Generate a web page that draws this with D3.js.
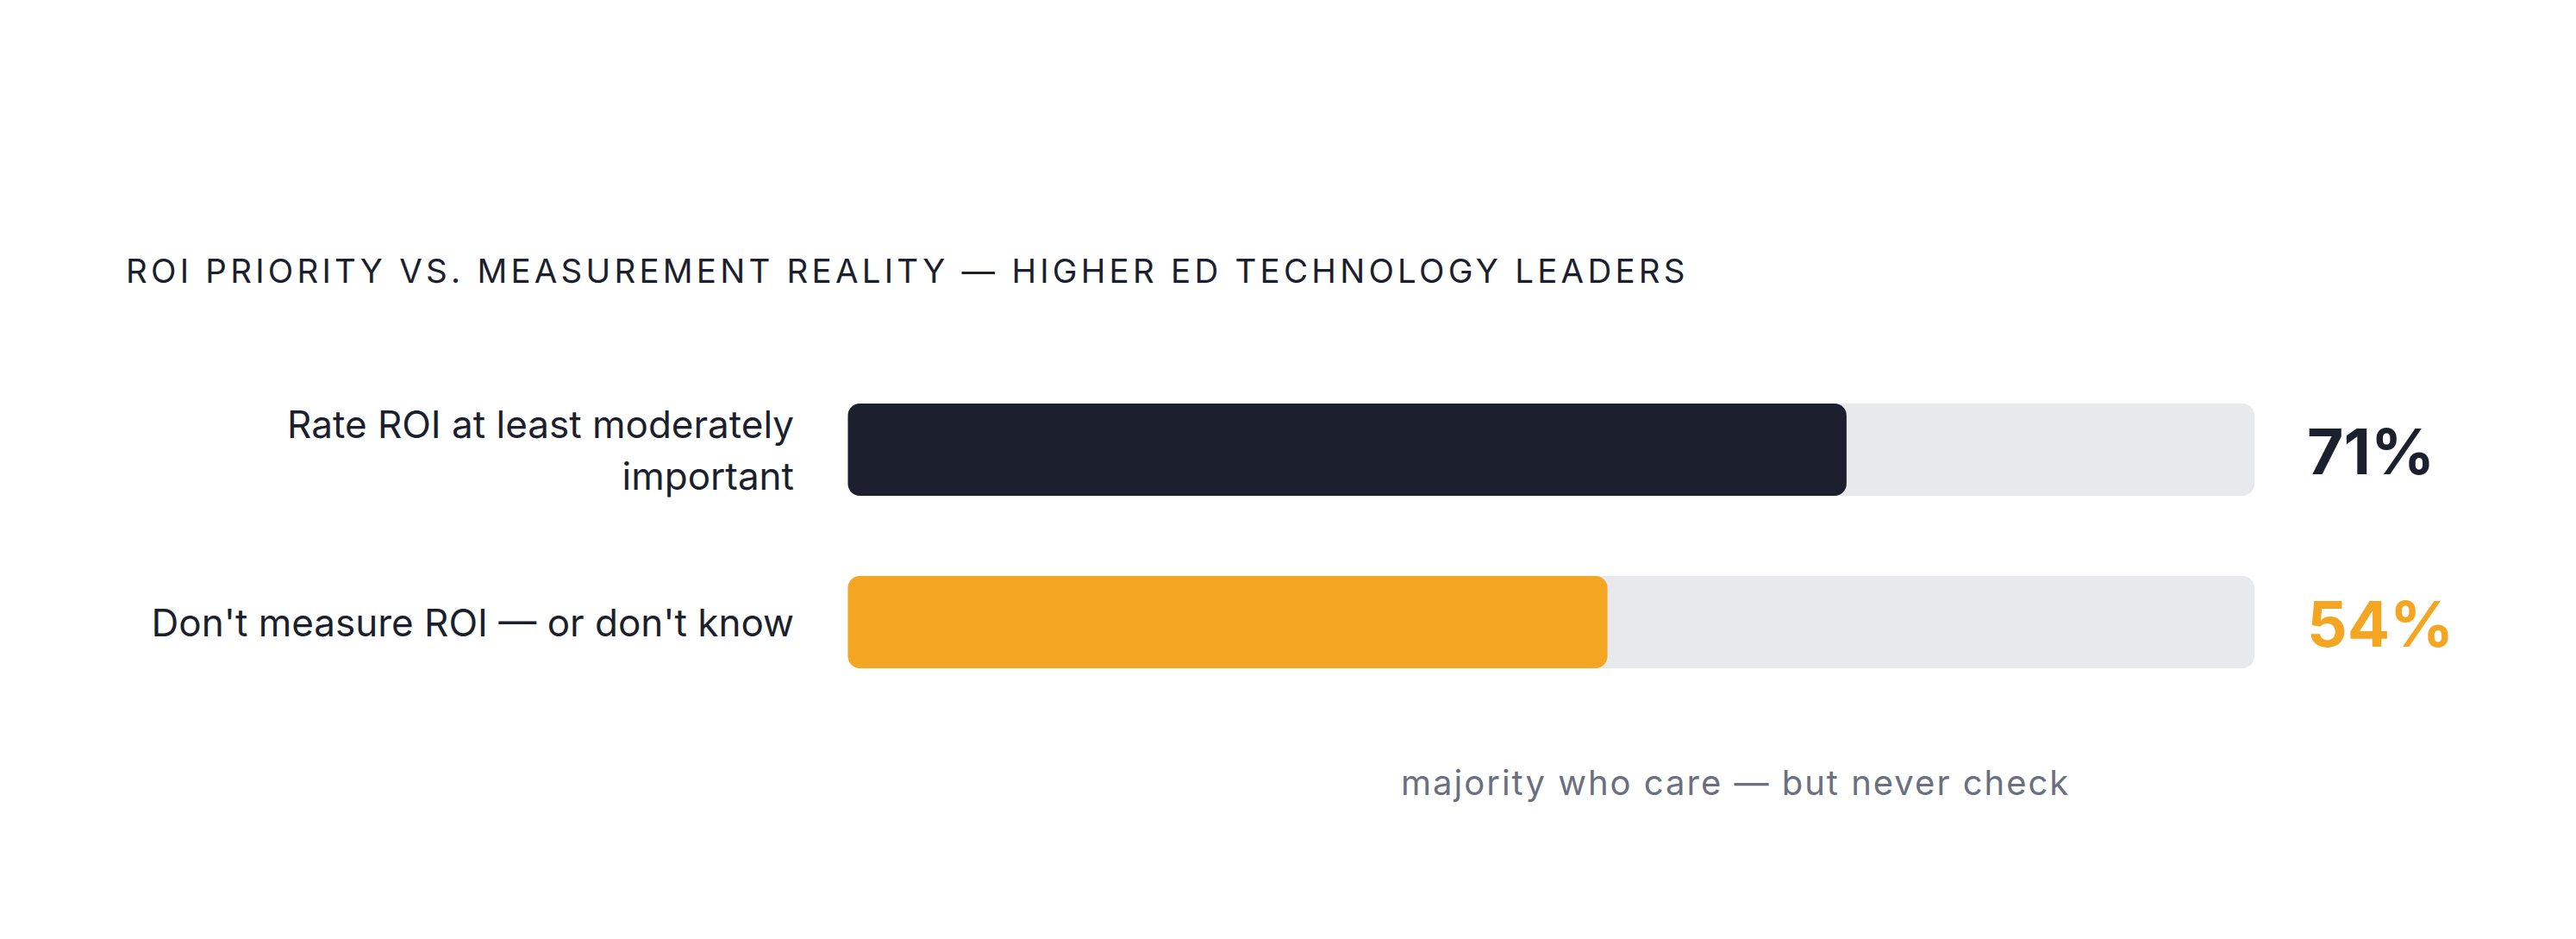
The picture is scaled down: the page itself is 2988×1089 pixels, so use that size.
<!DOCTYPE html>
<html>
<head>
<meta charset="utf-8">
<title>ROI priority vs. measurement reality</title>
<script src="https://cdn.jsdelivr.net/npm/d3@7"></script>
<style>
  html, body { margin: 0; padding: 0; background: #ffffff; }
  svg { display: block; font-family: Inter, "Noto Sans", sans-serif; }
</style>
</head>
<body>
<script>
// data
var categories = ["Rate ROI at least moderately important", "Don't measure ROI \u2014 or don't know"];
var values = [71, 54];
var valueLabels = ["71%", "54%"];
var barColors = ["#1b1f2e", "#f4a623"];
var title = "ROI PRIORITY VS. MEASUREMENT REALITY \u2014 HIGHER ED TECHNOLOGY LEADERS";
var note = "majority who care \u2014 but never check";

var W = 2988, H = 1089;

var svg = d3.select("body").append("svg")
  .attr("width", W)
  .attr("height", H);

// scales
var x = d3.scaleLinear().domain([0, 100]).range([983.5, 2615]);
var y = d3.scaleBand().domain(categories).range([468, 775]).paddingInner(0.465).paddingOuter(0);

// title
svg.append("text")
  .attr("x", 146)
  .attr("y", 328)
  .style("font-size", "38.5px")
  .style("letter-spacing", "0.11em")
  .style("fill", "#1b1f2e")
  .text(title);

var rows = svg.selectAll(".row")
  .data(categories)
  .enter().append("g")
  .attr("class", "row");

// grey track
rows.append("rect")
  .attr("x", x(0))
  .attr("y", function(d) { return y(d); })
  .attr("width", x(100) - x(0))
  .attr("height", y.bandwidth())
  .attr("rx", 14)
  .style("fill", "#e8e9ec");

// value bar
rows.append("rect")
  .attr("x", x(0))
  .attr("y", function(d) { return y(d); })
  .attr("width", function(d, i) { return x(values[i]) - x(0); })
  .attr("height", y.bandwidth())
  .attr("rx", 14)
  .style("fill", function(d, i) { return barColors[i]; });

// category labels, wrapped to fit left column
var labels = rows.append("text")
  .attr("text-anchor", "end")
  .style("font-size", "44px")
  .style("fill", "#1b1f2e");

labels.each(function(d) {
  var t = d3.select(this);
  var words = d.split(" ");
  var lines = [], line = [];
  var probe = t.append("tspan");
  words.forEach(function(w) {
    line.push(w);
    probe.text(line.join(" "));
    if (probe.node().getComputedTextLength() > 770 && line.length > 1) {
      line.pop();
      lines.push(line.join(" "));
      line = [w];
    }
  });
  lines.push(line.join(" "));
  probe.remove();
  var cy = y(d) + y.bandwidth() / 2 + 16;
  var lh = 60;
  lines.forEach(function(l, i) {
    t.append("tspan")
      .attr("x", 921)
      .attr("y", cy + (i - (lines.length - 1) / 2) * lh)
      .text(l);
  });
});

// value labels
rows.append("text")
  .attr("x", 2676)
  .attr("y", function(d) { return y(d) + y.bandwidth() / 2 + 28; })
  .style("font-size", "73px")
  .style("font-weight", 700)
  .style("fill", function(d, i) { return barColors[i]; })
  .text(function(d, i) { return valueLabels[i]; });

// annotation, centred over the gap between the two bar ends
svg.append("text")
  .attr("x", x((values[0] + values[1]) / 2) + 10)
  .attr("y", 922)
  .attr("text-anchor", "middle")
  .style("font-size", "40px")
  .style("letter-spacing", "0.05em")
  .style("fill", "#6b7080")
  .text(note);
</script>
</body>
</html>
